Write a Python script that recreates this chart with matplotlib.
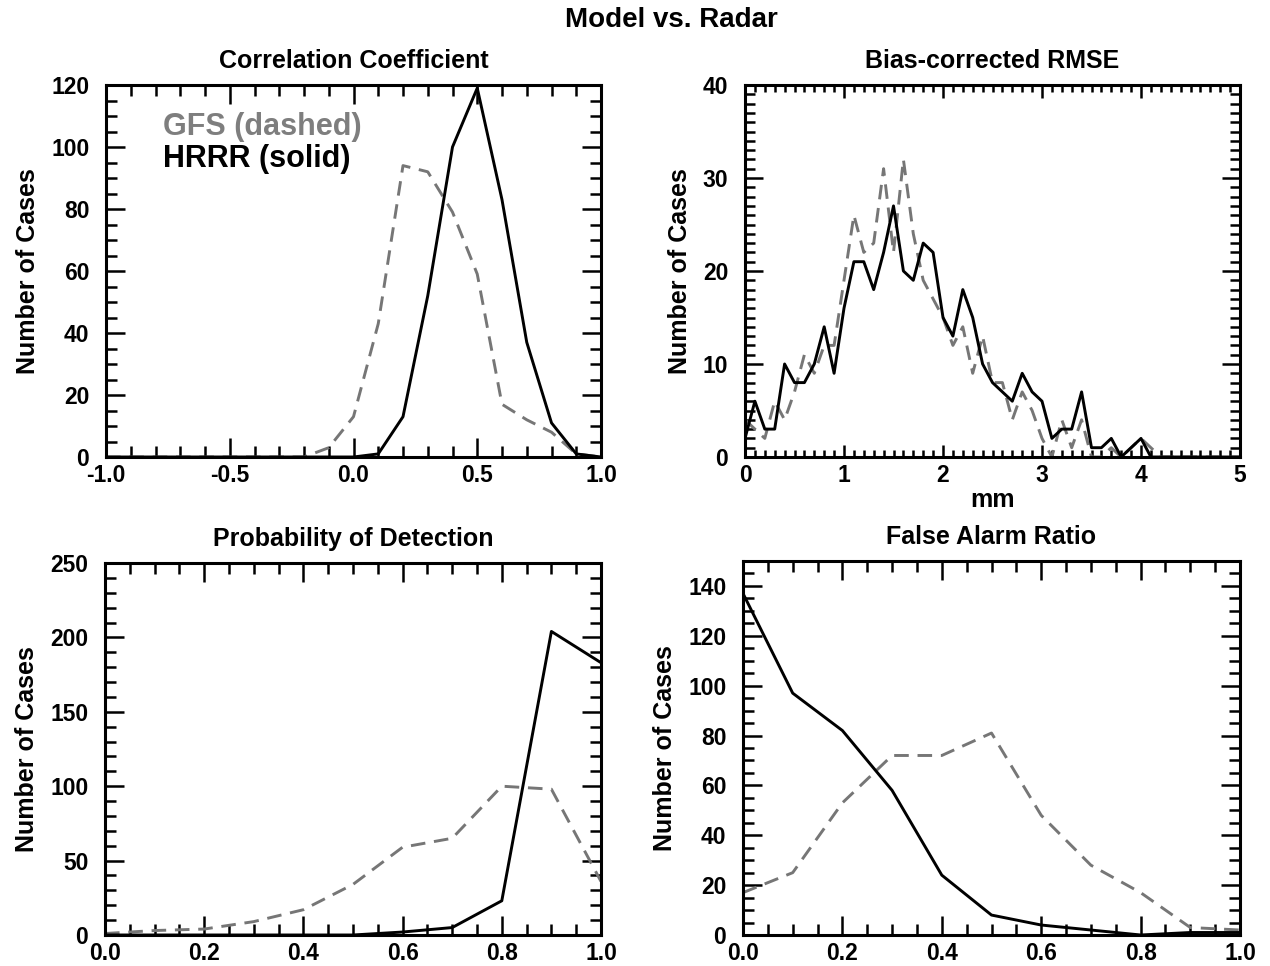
#importing libraries
import numpy as np
import matplotlib
matplotlib.use('Agg')
import matplotlib.pyplot as plt
from matplotlib.ticker import MultipleLocator, FormatStrFormatter

plt.rcParams['font.family'] = ['Liberation Sans', 'DejaVu Sans']
plt.rcParams['font.weight'] = 'bold'
plt.rcParams['axes.labelweight'] = 'bold'
plt.rcParams['axes.titleweight'] = 'bold'
plt.rcParams['axes.unicode_minus'] = False

#Correlation coefficient histogram (bins -1.0 .. 1.0)
corr_x = np.round(np.arange(-1.0, 1.001, 0.1), 1)
corr_gfs = [0, 0, 0, 0, 0, 0, 0, 0, 0, 3, 13, 43, 94, 92, 79, 59, 17, 12, 8, 1, 0]
corr_hrrr = [0, 0, 0, 0, 0, 0, 0, 0, 0, 0, 0, 1, 13, 52, 100, 119, 83, 37, 11, 1, 0]

#Bias-corrected RMSE histogram (bins 0.0 .. 5.0 mm)
rmse_x = np.round(np.arange(0.0, 5.001, 0.1), 1)
rmse_gfs = [4, 3, 2, 6, 4, 7, 11, 9, 12, 12,
            19, 26, 22, 23, 31, 22, 32, 24, 19, 17,
            15, 12, 14, 9, 13, 8, 8, 4, 7, 5,
            2, 0, 4, 1, 4, 0, 0, 1, 0, 1,
            2, 1, 0, 0, 0, 0, 0, 0, 0, 0,
            0]
rmse_hrrr = [2, 6, 3, 3, 10, 8, 8, 10, 14, 9,
             16, 21, 21, 18, 22, 27, 20, 19, 23, 22,
             15, 13, 18, 15, 10, 8, 7, 6, 9, 7,
             6, 2, 3, 3, 7, 1, 1, 2, 0, 1,
             2, 0, 0, 0, 0, 0, 0, 0, 0, 0,
             0]

#POD and FAR histograms (bins 0.0 .. 1.0)
score_x = [0.0, 0.1, 0.2, 0.3, 0.4, 0.5, 0.6, 0.7, 0.8, 0.9, 1.0]
pod_gfs = [1, 3, 4, 9, 17, 34, 59, 65, 100, 98, 36]
pod_hrrr = [0, 0, 0, 0, 0, 0, 2, 5, 23, 204, 183]
far_gfs = [17, 25, 53, 72, 72, 81, 48, 28, 17, 3, 2]
far_hrrr = [137, 97, 82, 58, 24, 8, 4, 2, 0, 1, 1]

gray = '#767676'
lw = 2.1

fig = plt.figure(figsize=(12.7, 9.66), dpi=100)

W, H = 1270.0, 966.0
def box(left, top, right, bottom):
    return [left / W, 1 - bottom / H, (right - left) / W, (bottom - top) / H]

ax1 = fig.add_axes(box(106, 85, 601, 457))
ax2 = fig.add_axes(box(745, 85, 1240, 457))
ax3 = fig.add_axes(box(105, 563, 601, 935))
ax4 = fig.add_axes(box(743, 561, 1240, 935))


def style_axis(ax, xmaj, xmin, ymaj, ymin, xlen=(13.5, 8), ylen=(13.5, 8)):
    ax.xaxis.set_major_locator(MultipleLocator(xmaj))
    ax.xaxis.set_minor_locator(MultipleLocator(xmin))
    ax.yaxis.set_major_locator(MultipleLocator(ymaj))
    ax.yaxis.set_minor_locator(MultipleLocator(ymin))
    ax.tick_params(which='both', direction='in', top=True, right=True,
                   width=1.8, labelsize=16.5)
    ax.tick_params(axis='x', which='major', length=xlen[0], pad=5)
    ax.tick_params(axis='x', which='minor', length=xlen[1])
    ax.tick_params(axis='y', which='major', length=ylen[0], pad=12)
    ax.tick_params(axis='y', which='minor', length=ylen[1])
    for sp in ax.spines.values():
        sp.set_linewidth(2.2)
    ax.set_ylabel('Number of Cases', fontsize=18, labelpad=8)


def draw(ax, x, gfs, hrrr):
    ax.plot(x, gfs, color=gray, lw=lw, dashes=(5, 3))
    ax.plot(x, hrrr, color='black', lw=lw)


# Correlation Coefficient
draw(ax1, corr_x, corr_gfs, corr_hrrr)
ax1.set_xlim(-1, 1)
ax1.set_ylim(0, 120)
style_axis(ax1, 0.5, 0.1, 20, 5)
ax1.xaxis.set_major_formatter(FormatStrFormatter('%.1f'))
ax1.set_title('Correlation Coefficient', fontsize=18, pad=12)
ax1.text(0.115, 0.887, 'GFS (dashed)', color='#7e7e7e', fontsize=22,
         va='center', transform=ax1.transAxes)
ax1.text(0.115, 0.80, 'HRRR (solid)', color='black', fontsize=22,
         va='center', transform=ax1.transAxes)

# Bias-corrected RMSE
draw(ax2, rmse_x, rmse_gfs, rmse_hrrr)
ax2.set_xlim(0, 5)
ax2.set_ylim(0, 40)
style_axis(ax2, 1, 0.1, 10, 1, xlen=(9, 5), ylen=(13, 7))
ax2.set_title('Bias-corrected RMSE', fontsize=18, pad=12)
ax2.set_xlabel('mm', fontsize=18, labelpad=1)

# Probability of Detection
draw(ax3, score_x, pod_gfs, pod_hrrr)
ax3.set_xlim(0, 1)
ax3.set_ylim(0, 250)
style_axis(ax3, 0.2, 0.05, 50, 10)
ax3.xaxis.set_major_formatter(FormatStrFormatter('%.1f'))
ax3.set_title('Probability of Detection', fontsize=18, pad=12)

# False Alarm Ratio
draw(ax4, score_x, far_gfs, far_hrrr)
ax4.set_xlim(0, 1)
ax4.set_ylim(0, 150)
style_axis(ax4, 0.2, 0.05, 20, 5)
ax4.xaxis.set_major_formatter(FormatStrFormatter('%.1f'))
ax4.set_title('False Alarm Ratio', fontsize=18, pad=12)

fig.text(0.529, 0.979, 'Model vs. Radar', ha='center', va='center',
         fontsize=20, fontweight='bold')

fig.savefig('out.png', dpi=100)
